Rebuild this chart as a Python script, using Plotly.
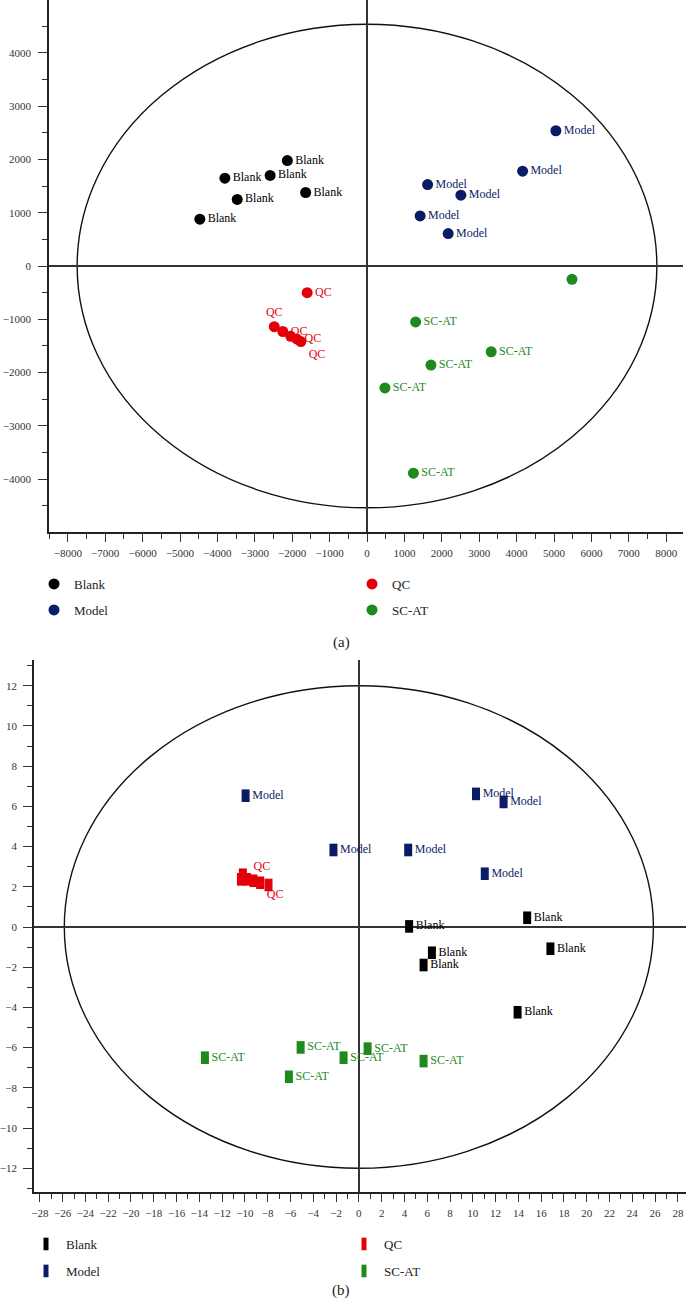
import plotly.graph_objects as go

# ---- (a) score plot ----
groups = ['Blank', 'QC', 'Model', 'SC-AT']

a_blank_x = [-2130, -3800, -2590, -1640, -3470, -4470]
a_blank_y = [1980, 1650, 1700, 1380, 1250, 880]
a_model_x = [5050, 4160, 1620, 2510, 1420, 2170]
a_model_y = [2540, 1780, 1530, 1330, 940, 610]
a_qc_x = [-1600, -2480, -2250, -2040, -1880, -1770]
a_qc_y = [-500, -1140, -1230, -1320, -1370, -1420]
a_qc_text = ['QC', 'QC', 'QC', '', 'QC', 'QC']
a_scat_x = [1300, 3320, 1710, 480, 1240, 5480]
a_scat_y = [-1050, -1610, -1860, -2290, -3890, -250]
a_scat_text = ['SC-AT', 'SC-AT', 'SC-AT', 'SC-AT', 'SC-AT', '']
a_ellipse = (7750, 4540)

# ---- (b) score plot ----
b_blank_x = [4.41, 14.77, 6.41, 16.81, 5.68, 13.93]
b_blank_y = [0.03, 0.46, -1.28, -1.08, -1.89, -4.24]
b_model_x = [-9.94, -2.23, 4.33, 10.28, 12.70, 11.05]
b_model_y = [6.53, 3.83, 3.83, 6.62, 6.22, 2.65]
b_qc_x = [-10.18, -10.35, -9.82, -9.25, -8.66, -7.93]
b_qc_y = [2.60, 2.37, 2.37, 2.30, 2.20, 2.09]
b_qc_text = ['', '', 'QC', '', 'QC', '']
b_scat_x = [-13.51, -5.11, -1.34, -6.14, 0.77, 5.68]
b_scat_y = [-6.50, -5.99, -6.50, -7.45, -6.05, -6.67]
b_ellipse = (25.85, 12.0)

COLORS = {'Blank': '#000000', 'QC': '#e3000b', 'Model': '#0b1c66', 'SC-AT': '#1e8a1e'}
SERIF = 'Liberation Serif, Times New Roman, serif'
W, H = 686, 1309

fig = go.Figure()


def add_a(name, xs, ys, texts, legend, textpos='middle right'):
    fig.add_trace(go.Scatter(
        x=xs, y=ys, mode='markers+text', name=name, text=texts,
        textposition=textpos,
        textfont=dict(family=SERIF, size=12, color=COLORS[name]),
        marker=dict(symbol='circle', size=11, color=COLORS[name]),
        xaxis='x', yaxis='y', legend=legend, cliponaxis=False,
    ))


def add_b(name, xs, ys, texts, legend, textpos='middle right'):
    fig.add_trace(go.Scatter(
        x=xs, y=ys, mode='markers+text', name=name, text=texts,
        textposition=textpos,
        textfont=dict(family=SERIF, size=12, color=COLORS[name]),
        marker=dict(symbol='line-ns', size=9, color=COLORS[name],
                    line=dict(width=8, color=COLORS[name])),
        xaxis='x2', yaxis='y2', legend=legend, cliponaxis=False,
    ))


add_a('Blank', a_blank_x, a_blank_y, ['Blank'] * 6, 'legend')
add_a('QC', a_qc_x, a_qc_y, a_qc_text, 'legend',
      ['middle right', 'top center', 'middle right', 'middle right',
       'middle right', 'bottom right'])
add_a('Model', a_model_x, a_model_y, ['Model'] * 6, 'legend2')
add_a('SC-AT', a_scat_x, a_scat_y, a_scat_text, 'legend2')

add_b('Blank', b_blank_x, b_blank_y, ['Blank'] * 6, 'legend3')
add_b('QC', b_qc_x, b_qc_y, b_qc_text, 'legend3',
      ['middle right', 'middle right', 'top right', 'middle right',
       'bottom right', 'middle right'])
add_b('Model', b_model_x, b_model_y, ['Model'] * 6, 'legend4')
add_b('SC-AT', b_scat_x, b_scat_y, ['SC-AT'] * 6, 'legend4')

# confidence ellipses
fig.add_shape(type='circle', xref='x', yref='y',
              x0=-a_ellipse[0], x1=a_ellipse[0], y0=-a_ellipse[1], y1=a_ellipse[1],
              line=dict(color='#111111', width=1.4), layer='below')
fig.add_shape(type='circle', xref='x2', yref='y2',
              x0=-b_ellipse[0], x1=b_ellipse[0], y0=-b_ellipse[1], y1=b_ellipse[1],
              line=dict(color='#111111', width=1.4), layer='below')


def axis(rng, domain, dtick, minor, ticklen, anchor, **kw):
    return dict(
        range=rng, domain=domain, anchor=anchor, dtick=dtick, tick0=0,
        showgrid=False, zeroline=True, zerolinecolor='#333333', zerolinewidth=1.5,
        showline=True, linecolor='#222222', linewidth=1.5,
        ticks='outside', ticklen=ticklen, tickwidth=1.3, tickcolor='#333333',
        minor=dict(dtick=minor, tick0=0, ticks='outside', ticklen=5,
                   tickwidth=1.2, tickcolor='#333333'),
        tickfont=dict(family=SERIF, size=11, color='#333333'),
        automargin=False, fixedrange=True, **kw)


def py(px):
    return 1 - px / H


fig.update_layout(
    width=W, height=H,
    margin=dict(l=0, r=0, t=0, b=0),
    paper_bgcolor='white', plot_bgcolor='white',
    xaxis=axis([-8503, 8449], [49 / W, 683 / W], 1000, 500, 8, 'y', ticklabelstandoff=2),
    yaxis=axis([-4995, 4995], [py(532), 1.0], 1000, 500, 9, 'x', ticklabelstandoff=5),
    xaxis2=axis([-28.51, 28.71], [34 / W, 1.0], 2, 1, 8, 'y2', ticklabelstandoff=2),
    yaxis2=axis([-13.18, 13.28], [py(1192), py(660)], 2, 1, 9, 'x2', ticklabelstandoff=4),
    showlegend=True,
)

leg_common = dict(orientation='h', entrywidth=273, entrywidthmode='pixels',
                  xanchor='left', yanchor='middle', bgcolor='rgba(0,0,0,0)',
                  font=dict(family=SERIF, size=13, color='#222222'),
                  itemclick=False, itemdoubleclick=False)
fig.update_layout(
    legend=dict(x=34 / W, y=py(584), **leg_common),
    legend2=dict(x=34 / W, y=py(610), **leg_common),
    legend3=dict(x=26 / W, y=py(1244), **leg_common),
    legend4=dict(x=26 / W, y=py(1271), **leg_common),
)

fig.add_annotation(text='(a)', x=341 / W, y=py(642), xref='paper', yref='paper',
                   showarrow=False, font=dict(family=SERIF, size=15, color='#222222'))
fig.add_annotation(text='(b)', x=341 / W, y=py(1301), xref='paper', yref='paper',
                   showarrow=False, font=dict(family=SERIF, size=15, color='#222222'))

# the page's default 8px body margin would shift the figure; drop it
fig.write_html('out.html', config={'displayModeBar': False},
               post_script="document.body.style.margin='0px';")
